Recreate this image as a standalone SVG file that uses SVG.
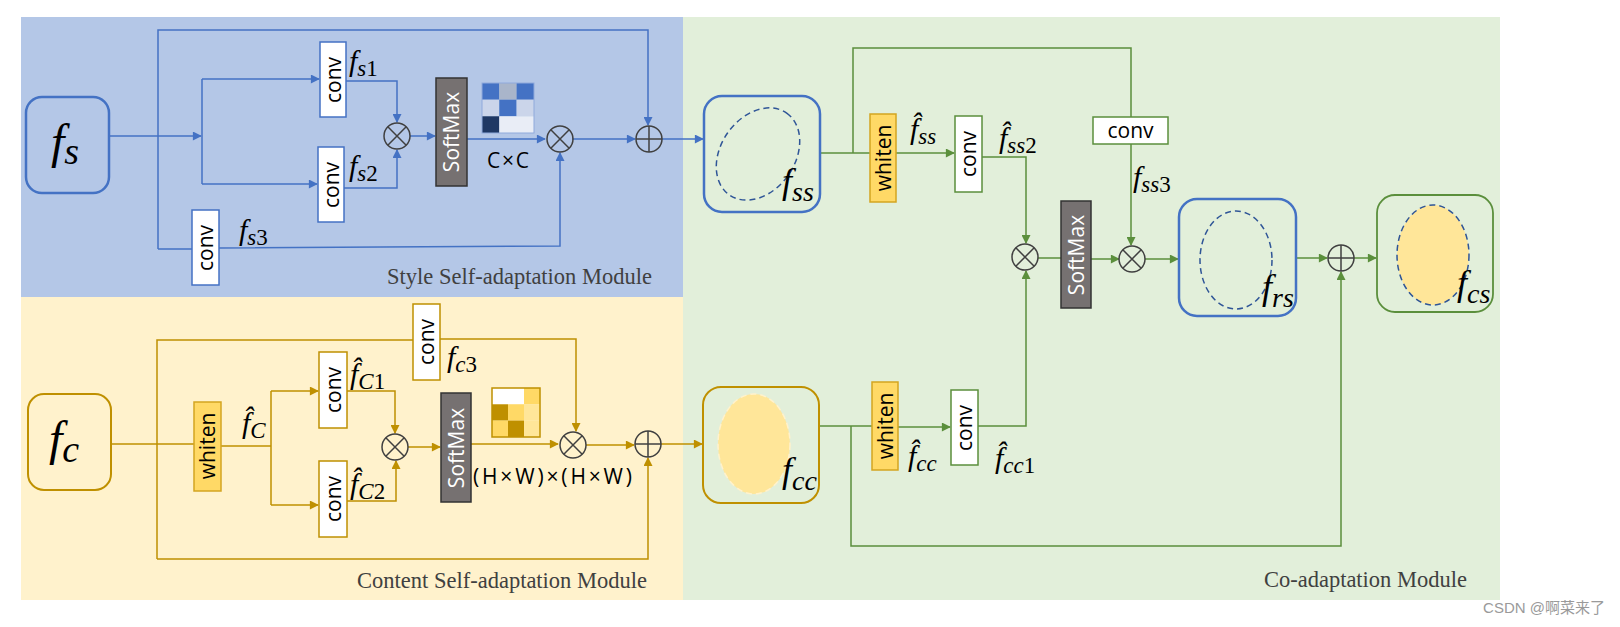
<svg xmlns="http://www.w3.org/2000/svg" width="1620" height="627" viewBox="0 0 1620 627">
<style>
.m{font-family:"Liberation Serif",serif;font-style:italic;fill:#000}
.up{font-style:normal}
.lbl{font-family:"Open Sans","Liberation Sans",sans-serif;font-size:21px;fill:#000}
.mod{font-family:"Liberation Serif",serif;font-size:22.5px;fill:#404040}
.wb{fill:#fff}
.cb{stroke:#4472C4;stroke-width:1.5}
.cg{stroke:#BF9000;stroke-width:1.5}
.cgr{stroke:#5B8F3C;stroke-width:1.5}
.sm{fill:#767171;stroke:#333;stroke-width:1.5}
.smt{font-family:"Open Sans","Liberation Sans",sans-serif;font-size:21px;fill:#fff}
.wh{fill:#FFD966;stroke:#D4A520;stroke-width:1.5}
.op{fill:none;stroke:#404040;stroke-width:1.5}
.lb{fill:none;stroke:#4472C4;stroke-width:1.5}
.lg{fill:none;stroke:#BF9000;stroke-width:1.5}
.lgr{fill:none;stroke:#5B8F3C;stroke-width:1.5}
</style>
<defs>
<marker id="ab" viewBox="0 0 10 10" refX="9" refY="5" markerWidth="11" markerHeight="9" markerUnits="userSpaceOnUse" orient="auto"><path d="M0,0L10,5L0,10z" fill="#4472C4"/></marker>
<marker id="ag" viewBox="0 0 10 10" refX="9" refY="5" markerWidth="11" markerHeight="9" markerUnits="userSpaceOnUse" orient="auto"><path d="M0,0L10,5L0,10z" fill="#BF9000"/></marker>
<marker id="agr" viewBox="0 0 10 10" refX="9" refY="5" markerWidth="11" markerHeight="9" markerUnits="userSpaceOnUse" orient="auto"><path d="M0,0L10,5L0,10z" fill="#5B8F3C"/></marker>
</defs>
<rect width="1620" height="627" fill="#fff"/>
<g id="backgrounds">
<rect x="21" y="17" width="662" height="280" fill="#B4C7E7"/>
<rect x="21" y="297" width="662" height="303" fill="#FFF2CC"/>
<rect x="683" y="17" width="817" height="583" fill="#E2EFDA"/>
</g>
<g id="connectors">
<path class="lb" d="M109,136H201" marker-end="url(#ab)"/>
<path class="lb" d="M202,79V184"/>
<path class="lb" d="M202,79H319" marker-end="url(#ab)"/>
<path class="lb" d="M202,184H317" marker-end="url(#ab)"/>
<path class="lb" d="M158,249V30H648V125" marker-end="url(#ab)"/>
<path class="lb" d="M158,249H192"/>
<path class="lb" d="M219,248L560,246V153" marker-end="url(#ab)"/>
<path class="lb" d="M346,81H397V122" marker-end="url(#ab)"/>
<path class="lb" d="M344,188H397V150" marker-end="url(#ab)"/>
<path class="lb" d="M410,136H435" marker-end="url(#ab)"/>
<path class="lb" d="M467,139H545" marker-end="url(#ab)"/>
<path class="lb" d="M572,139H635" marker-end="url(#ab)"/>
<path class="lb" d="M662,139H703" marker-end="url(#ab)"/>
<path class="lg" d="M111,444H194"/>
<path class="lg" d="M157,559V340H413"/>
<path class="lg" d="M440,339H576V431" marker-end="url(#ag)"/>
<path class="lg" d="M157,559H648V458" marker-end="url(#ag)"/>
<path class="lg" d="M221,446H271"/>
<path class="lg" d="M271,391V505"/>
<path class="lg" d="M271,391H318" marker-end="url(#ag)"/>
<path class="lg" d="M271,505H318" marker-end="url(#ag)"/>
<path class="lg" d="M347,391H395V433" marker-end="url(#ag)"/>
<path class="lg" d="M347,501H396V461" marker-end="url(#ag)"/>
<path class="lg" d="M408,447H440" marker-end="url(#ag)"/>
<path class="lg" d="M471,444H558" marker-end="url(#ag)"/>
<path class="lg" d="M586,445H634" marker-end="url(#ag)"/>
<path class="lg" d="M661,444H702" marker-end="url(#ag)"/>
<path class="lgr" d="M820,153H870"/>
<path class="lgr" d="M853,153V48H1131V117"/>
<path class="lgr" d="M1131,144V245" marker-end="url(#agr)"/>
<path class="lgr" d="M896,153H954" marker-end="url(#agr)"/>
<path class="lgr" d="M982,157H1026V243" marker-end="url(#agr)"/>
<path class="lgr" d="M1038,258H1061"/>
<path class="lgr" d="M1091,259H1119" marker-end="url(#agr)"/>
<path class="lgr" d="M1145,259H1178" marker-end="url(#agr)"/>
<path class="lgr" d="M1296,258H1327" marker-end="url(#agr)"/>
<path class="lgr" d="M1354,258H1376" marker-end="url(#agr)"/>
<path class="lgr" d="M819,426H872"/>
<path class="lgr" d="M851,426V546H1341V272" marker-end="url(#agr)"/>
<path class="lgr" d="M898,427H950" marker-end="url(#agr)"/>
<path class="lgr" d="M978,426H1026V271" marker-end="url(#agr)"/>
</g>
<g id="node-fs">
<rect x="26" y="97" width="83" height="96" rx="16" fill="none" stroke="#4472C4" stroke-width="2.5"/>
<text class="m" x="51" y="158" font-size="48">f<tspan font-size="38" dy="6">s</tspan></text>
</g>
<g id="conv-s1"><rect x="320" y="42" width="26" height="75" class="wb cb"/><text class="lbl" transform="translate(340.5,80) rotate(-90)" text-anchor="middle">conv</text></g>
<g id="conv-s2"><rect x="318" y="147" width="26" height="75" class="wb cb"/><text class="lbl" transform="translate(338.5,185) rotate(-90)" text-anchor="middle">conv</text></g>
<g id="conv-s3"><rect x="192" y="210" width="27" height="75" class="wb cb"/><text class="lbl" transform="translate(213,248) rotate(-90)" text-anchor="middle">conv</text></g>
<g id="lbl-s">
<text class="m" x="349" y="71" font-size="30">f<tspan font-size="23" dy="5">s</tspan><tspan class="up" font-size="23">1</tspan></text>
<text class="m" x="349" y="176" font-size="30">f<tspan font-size="23" dy="5">s</tspan><tspan class="up" font-size="23">2</tspan></text>
<text class="m" x="239" y="240" font-size="30">f<tspan font-size="23" dy="5">s</tspan><tspan class="up" font-size="23">3</tspan></text>
</g>
<g id="otimes-s1"><circle cx="397" cy="136" r="13" class="op"/><path class="op" d="M387.8,126.8L406.2,145.2M406.2,126.8L387.8,145.2"/></g>
<g id="softmax-s"><rect x="436" y="78" width="31" height="108" class="sm"/><text class="smt" transform="translate(459,132) rotate(-90)" text-anchor="middle">SoftMax</text></g>
<g id="matrix-cc">
<rect x="482" y="83" width="17.3" height="16.7" fill="#4472C4"/><rect x="499.3" y="83" width="17.3" height="16.7" fill="#A9B5CA"/><rect x="516.6" y="83" width="17.4" height="16.7" fill="#4472C4"/>
<rect x="482" y="99.7" width="17.3" height="16.6" fill="#CBD5EA"/><rect x="499.3" y="99.7" width="17.3" height="16.6" fill="#4472C4"/><rect x="516.6" y="99.7" width="17.4" height="16.6" fill="#CBD5EA"/>
<rect x="482" y="116.3" width="17.3" height="16.7" fill="#1F3864"/><rect x="499.3" y="116.3" width="34.7" height="16.7" fill="#E9EDF6"/>
<rect x="482" y="83" width="52" height="50" fill="none" stroke="#8FAADC" stroke-width="1"/>
<text class="lbl" x="487" y="168" font-size="22" textLength="42" lengthAdjust="spacing">C×C</text>
</g>
<g id="otimes-s2"><circle cx="560" cy="139" r="13" class="op"/><path class="op" d="M550.8,129.8L569.2,148.2M569.2,129.8L550.8,148.2"/></g>
<g id="oplus-s"><circle cx="649" cy="139" r="13" class="op"/><path class="op" d="M636,139H662M649,126V152"/></g>
<text class="mod" x="652" y="284" text-anchor="end">Style Self-adaptation Module</text>

<g id="node-fc">
<rect x="28" y="394" width="83" height="96" rx="16" fill="none" stroke="#BF9000" stroke-width="2"/>
<text class="m" x="49" y="455" font-size="48">f<tspan font-size="38" dy="7">c</tspan></text>
</g>
<g id="whiten-c"><rect x="194" y="402" width="27" height="89" class="wh"/><text class="lbl" transform="translate(215,446) rotate(-90)" text-anchor="middle">whiten</text></g>
<g id="conv-c1"><rect x="319" y="352" width="28" height="76" class="wb cg"/><text class="lbl" transform="translate(341,390) rotate(-90)" text-anchor="middle">conv</text></g>
<g id="conv-c2"><rect x="319" y="461" width="28" height="76" class="wb cg"/><text class="lbl" transform="translate(341,499) rotate(-90)" text-anchor="middle">conv</text></g>
<g id="conv-c3"><rect x="413" y="304" width="27" height="76" class="wb cg"/><text class="lbl" transform="translate(434,342) rotate(-90)" text-anchor="middle">conv</text></g>
<g id="lbl-c">
<text class="m" x="242" y="433" font-size="30">f̂<tspan font-size="23" dy="5">C</tspan></text>
<text class="m" x="350" y="384" font-size="30">f̂<tspan font-size="23" dy="5">C</tspan><tspan class="up" font-size="23">1</tspan></text>
<text class="m" x="350" y="494" font-size="30">f̂<tspan font-size="23" dy="5">C</tspan><tspan class="up" font-size="23">2</tspan></text>
<text class="m" x="447" y="367" font-size="30">f<tspan font-size="23" dy="5">c</tspan><tspan class="up" font-size="23">3</tspan></text>
</g>
<g id="otimes-c1"><circle cx="395" cy="447" r="13" class="op"/><path class="op" d="M385.8,437.8L404.2,456.2M404.2,437.8L385.8,456.2"/></g>
<g id="softmax-c"><rect x="441" y="393" width="30" height="109" class="sm"/><text class="smt" transform="translate(463.5,448) rotate(-90)" text-anchor="middle">SoftMax</text></g>
<g id="matrix-hw">
<rect x="492" y="388" width="32" height="16.3" fill="#fff"/><rect x="524" y="388" width="16" height="16.3" fill="#FFD966"/>
<rect x="492" y="404.3" width="16" height="16.3" fill="#BF9000"/><rect x="508" y="404.3" width="16" height="16.3" fill="#FFD966"/><rect x="524" y="404.3" width="16" height="16.3" fill="#FFE699"/>
<rect x="492" y="420.6" width="16" height="16.4" fill="#FFD966"/><rect x="508" y="420.6" width="16" height="16.4" fill="#BF9000"/><rect x="524" y="420.6" width="16" height="16.4" fill="#FFE699"/>
<rect x="492" y="388" width="48" height="49" fill="none" stroke="#BF9000" stroke-width="1.5"/>
<text class="lbl" x="473" y="484" font-size="22" textLength="159" lengthAdjust="spacing">(H×W)×(H×W)</text>
</g>
<g id="otimes-c2"><circle cx="573" cy="445" r="13" class="op"/><path class="op" d="M563.8,435.8L582.2,454.2M582.2,435.8L563.8,454.2"/></g>
<g id="oplus-c"><circle cx="648" cy="444" r="13" class="op"/><path class="op" d="M635,444H661M648,431V457"/></g>
<text class="mod" x="647" y="588" text-anchor="end">Content Self-adaptation Module</text>

<g id="node-fss">
<rect x="704" y="96" width="116" height="116" rx="18" fill="none" stroke="#4472C4" stroke-width="2.5"/>
<ellipse cx="758" cy="154" rx="50" ry="37" transform="rotate(-55 758 154)" fill="none" stroke="#2F5597" stroke-width="1.5" stroke-dasharray="6,4"/>
<text class="m" x="782" y="193" font-size="36">f<tspan font-size="28" dy="8">ss</tspan></text>
</g>
<g id="whiten-ss"><rect x="870" y="114" width="26" height="88" class="wh"/><text class="lbl" transform="translate(890.5,158) rotate(-90)" text-anchor="middle">whiten</text></g>
<g id="conv-ss2"><rect x="955" y="116" width="27" height="76" class="wb cgr"/><text class="lbl" transform="translate(976,154) rotate(-90)" text-anchor="middle">conv</text></g>
<g id="conv-ss3"><rect x="1093" y="117" width="75" height="27" class="wb cgr"/><text class="lbl" x="1130.5" y="138" text-anchor="middle">conv</text></g>
<g id="lbl-ss">
<text class="m" x="910" y="139" font-size="30">f̂<tspan font-size="23" dy="5">ss</tspan></text>
<text class="m" x="999" y="148" font-size="30">f̂<tspan font-size="23" dy="5">ss</tspan><tspan class="up" font-size="23">2</tspan></text>
<text class="m" x="1133" y="187" font-size="30">f<tspan font-size="23" dy="5">ss</tspan><tspan class="up" font-size="23">3</tspan></text>
</g>
<g id="otimes-g1"><circle cx="1025" cy="257" r="13" class="op"/><path class="op" d="M1015.8,247.8L1034.2,266.2M1034.2,247.8L1015.8,266.2"/></g>
<g id="softmax-g"><rect x="1061" y="201" width="30" height="107" class="sm"/><text class="smt" transform="translate(1083.5,255) rotate(-90)" text-anchor="middle">SoftMax</text></g>
<g id="otimes-g2"><circle cx="1132" cy="259" r="13" class="op"/><path class="op" d="M1122.8,249.8L1141.2,268.2M1141.2,249.8L1122.8,268.2"/></g>
<g id="node-frs">
<rect x="1179" y="199" width="117" height="117" rx="18" fill="none" stroke="#4472C4" stroke-width="2.5"/>
<ellipse cx="1236" cy="260" rx="36" ry="49" fill="none" stroke="#2F5597" stroke-width="1.5" stroke-dasharray="6,4"/>
<text class="m" x="1262" y="299" font-size="36">f<tspan font-size="28" dy="8">rs</tspan></text>
</g>
<g id="oplus-g"><circle cx="1341" cy="258" r="13" class="op"/><path class="op" d="M1328,258H1354M1341,245V271"/></g>
<g id="node-fcs">
<rect x="1377" y="195" width="116" height="117" rx="18" fill="none" stroke="#5B8F3C" stroke-width="1.8"/>
<ellipse cx="1433" cy="255" rx="36" ry="50" fill="#FFE699" stroke="#2F5597" stroke-width="1.5" stroke-dasharray="6,4"/>
<text class="m" x="1457" y="295" font-size="36">f<tspan font-size="28" dy="8">cs</tspan></text>
</g>
<g id="node-fcc">
<rect x="703" y="387" width="116" height="116" rx="18" fill="none" stroke="#BF9000" stroke-width="2"/>
<ellipse cx="754" cy="444" rx="36" ry="50" fill="#FFE699" stroke="#FFF2CC" stroke-width="1.5" stroke-dasharray="6,4"/>
<text class="m" x="782" y="482" font-size="36">f<tspan font-size="28" dy="8">cc</tspan></text>
</g>
<g id="whiten-cc"><rect x="872" y="382" width="26" height="88" class="wh"/><text class="lbl" transform="translate(892.5,426) rotate(-90)" text-anchor="middle">whiten</text></g>
<g id="conv-cc1"><rect x="951" y="390" width="27" height="75" class="wb cgr"/><text class="lbl" transform="translate(972,428) rotate(-90)" text-anchor="middle">conv</text></g>
<g id="lbl-cc">
<text class="m" x="908" y="466" font-size="30">f̂<tspan font-size="23" dy="5">cc</tspan></text>
<text class="m" x="995" y="468" font-size="30">f̂<tspan font-size="23" dy="5">cc</tspan><tspan class="up" font-size="23">1</tspan></text>
</g>
<text class="mod" x="1467" y="587" text-anchor="end">Co-adaptation Module</text>
<text x="1605" y="613" text-anchor="end" font-family="Liberation Sans,Noto Sans CJK SC,sans-serif" font-size="15" fill="#9a9a9a">CSDN @啊菜来了</text>
</svg>
